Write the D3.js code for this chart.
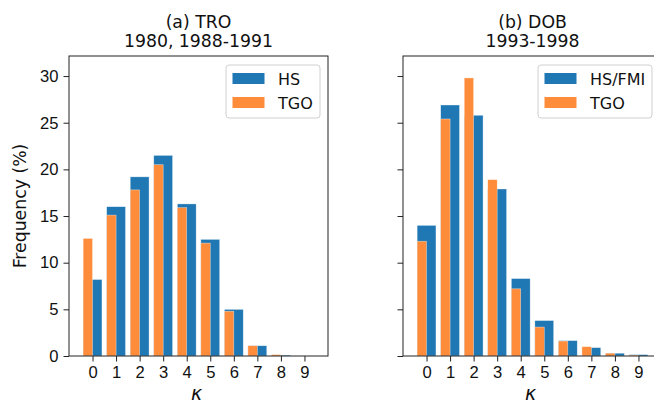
<!DOCTYPE html>
<html>
<head>
<meta charset="utf-8">
<script src="https://cdn.jsdelivr.net/npm/d3@7"></script>
<style>
    body { margin: 0; background: #fff; }
    svg { display: block; font-family: "DejaVu Sans", sans-serif; }
    .tick text { font-size: 16.6px; fill: #111; }
</style>
</head>
<body>
<div id="chart"></div>
<script>
// categories (kappa) and frequencies (%)
const kappa = [0, 1, 2, 3, 4, 5, 6, 7, 8, 9];
const yTicks = [0, 5, 10, 15, 20, 25, 30];

const troHS  = [8.2, 16.0, 19.2, 21.5, 16.3, 12.5, 5.0, 1.1, 0.1, 0.0];
const troTGO = [12.6, 15.1, 17.8, 20.5, 15.9, 12.1, 4.8, 1.1, 0.15, 0.0];

const dobHS  = [14.0, 26.9, 25.8, 17.9, 8.3, 3.8, 1.65, 0.9, 0.3, 0.15];
const dobTGO = [12.3, 25.4, 29.8, 18.9, 7.2, 3.1, 1.6, 1.0, 0.3, 0.1];

const panels = [
    { title: ['(a) TRO', '1980, 1988-1991'], hs: troHS, tgo: troTGO, hsLabel: 'HS', left: 69, yLabels: true },
    { title: ['(b) DOB', '1993-1998'], hs: dobHS, tgo: dobTGO, hsLabel: 'HS/FMI', left: 403, yLabels: false }
];

const width = 654, height = 403;
const plotTop = 56, plotBottom = 356, panelW = 259;
const blue = '#1f77b4', orange = '#ff8c3a';
const labelSize = 17.3;

const svg = d3.select('#chart').append('svg')
    .attr('width', width)
    .attr('height', height);

const y = d3.scaleLinear().domain([0, 32.15]).range([plotBottom, plotTop]);

panels.forEach(p => {
    const x = d3.scaleLinear().domain([-1, 10]).range([p.left, p.left + panelW]);
    const g = svg.append('g');

    // bars: blue full width, orange left half on top
    g.selectAll('.hs').data(kappa).enter().append('rect')
        .attr('x', d => x(d - 0.4))
        .attr('width', x(0.8) - x(0))
        .attr('y', (d, i) => y(p.hs[i]))
        .attr('height', (d, i) => y(0) - y(p.hs[i]))
        .attr('fill', blue)
        .attr('stroke', '#fff').attr('stroke-width', 0.6).attr('stroke-opacity', 0.6);

    g.selectAll('.tgo').data(kappa).enter().append('rect')
        .attr('x', d => x(d - 0.4))
        .attr('width', x(0.4) - x(0))
        .attr('y', (d, i) => y(p.tgo[i]))
        .attr('height', (d, i) => y(0) - y(p.tgo[i]))
        .attr('fill', orange)
        .attr('stroke', '#fff').attr('stroke-width', 0.6).attr('stroke-opacity', 0.6);

    // axes
    const xAxis = g.append('g')
        .attr('transform', `translate(0,${plotBottom})`)
        .call(d3.axisBottom(x).tickValues(kappa).tickFormat(d3.format('d')).tickSize(5.5).tickPadding(4.5));
    xAxis.select('.domain').remove();

    const yAxis = g.append('g')
        .attr('transform', `translate(${p.left},0)`)
        .call(d3.axisLeft(y).tickValues(yTicks).tickSize(5.5).tickPadding(5)
            .tickFormat(p.yLabels ? d3.format('d') : () => ''));
    yAxis.select('.domain').remove();
    g.selectAll('.tick line').attr('stroke', '#222');

    // spines
    g.append('rect')
        .attr('x', p.left).attr('y', plotTop)
        .attr('width', panelW).attr('height', plotBottom - plotTop)
        .attr('fill', 'none').attr('stroke', '#222').attr('stroke-width', 1);

    // title
    const cx = p.left + panelW / 2;
    g.append('text')
        .attr('x', cx).attr('y', 28.3)
        .attr('text-anchor', 'middle').attr('font-size', labelSize).attr('fill', '#111')
        .text(p.title[0]);
    g.append('text')
        .attr('x', cx).attr('y', 46.8)
        .attr('text-anchor', 'middle').attr('font-size', labelSize).attr('fill', '#111')
        .text(p.title[1]);

    // x label
    g.append('text')
        .attr('x', cx - 2).attr('y', 400)
        .attr('text-anchor', 'middle').attr('font-size', 19).attr('font-style', 'italic').attr('fill', '#111')
        .text('κ');

    // legend
    const legW = p.hsLabel === 'HS' ? 94 : 114;
    const lx = p.yLabels ? 226 : 538;
    const leg = g.append('g').attr('transform', `translate(${lx},65)`);
    leg.append('rect')
        .attr('width', legW).attr('height', 53).attr('rx', 3)
        .attr('fill', '#fff').attr('fill-opacity', 0.8)
        .attr('stroke', '#d0d0d0');
    [[p.hsLabel, blue], ['TGO', orange]].forEach(([label, color], i) => {
        leg.append('rect')
            .attr('x', 6.5).attr('y', 8 + i * 24)
            .attr('width', 32).attr('height', 11)
            .attr('fill', color);
        leg.append('text')
            .attr('x', 52).attr('y', 19.5 + i * 24)
            .attr('font-size', 16).attr('fill', '#111')
            .text(label);
    });
});

// y label
svg.append('text')
    .attr('transform', `translate(25.5,${(plotTop + plotBottom) / 2}) rotate(-90)`)
    .attr('text-anchor', 'middle').attr('font-size', labelSize).attr('fill', '#111')
    .text('Frequency (%)');
</script>
</body>
</html>
